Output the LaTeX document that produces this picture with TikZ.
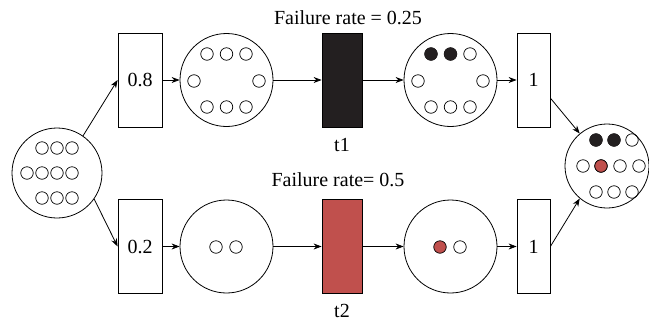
\documentclass[tikz,border=0pt]{standalone}
\usepackage{fontspec}
\setmainfont{Liberation Serif}
\usetikzlibrary{arrows.meta}
\definecolor{pnred}{RGB}{192,80,77}
\definecolor{pnblack}{RGB}{35,31,32}
\begin{document}
\begin{tikzpicture}[x=1pt,y=-1pt,
  every node/.style={font=\fontsize{20}{23}\selectfont},
  place/.style={circle, draw, line width=0.8pt, minimum size=93pt, inner sep=0pt},
  tok/.style={circle, draw, line width=0.7pt, minimum size=12.5pt, inner sep=0pt},
  bx/.style={rectangle, draw, line width=0.8pt, minimum width=44pt, minimum height=94pt, inner sep=0pt},
  bxn/.style={bx, minimum width=33pt},
  trans/.style={rectangle, draw, line width=0.8pt, minimum width=40pt, minimum height=94pt, inner sep=0pt},
  arr/.style={-{Stealth[length=8pt,width=6pt]}, line width=0.8pt},
  lbl/.style={inner sep=0pt}]
\useasboundingbox (0,0) rectangle (649,322);

% places, boxes, transitions
\node[place, minimum size=90pt] (src) at (57,173) {};
\node[bx] (b08) at (140,80) {0.8};
\node[bx] (b02) at (140,246.5) {0.2};
\node[place] (p1) at (226.5,80) {};
\node[trans, fill=pnblack] (t1) at (342,80) {};
\node[place] (p2) at (450.5,80) {};
\node[bxn] (b1a) at (533.5,80) {1};
\node[place] (p3) at (226.5,246.5) {};
\node[trans, fill=pnred] (t2) at (342,246.5) {};
\node[place] (p4) at (450.5,246.5) {};
\node[bxn] (b1b) at (533.5,246.5) {1};
\node[place, minimum size=84pt] (sink) at (607,166) {};

% labels
\node[lbl] (f1) at (348,18) {Failure rate = 0.25};
\node[lbl] (lt1) at (342,145) {t1};
\node[lbl] (f2) at (338,180) {Failure rate= 0.5};
\node[lbl] (lt2) at (342,311) {t2};

% tokens: source
\foreach \x/\y [count=\i] in {42/148,57/148,72/148,27/173,42/173,57/173,72/173,42/198,57/198,72/198}
  \node[tok] (s\i) at (\x,\y) {};
% tokens: p1
\foreach \x/\y [count=\i] in {207/54,226.5/54,246/54,194/81,259/81,207/107,226.5/107,246/107}
  \node[tok] (a\i) at (\x,\y) {};
% tokens: p2
\foreach \x/\y [count=\i] in {431/54,450.5/54,470/54,418/81,483/81,431/107,450.5/107,470/107}
  \node[tok] (c\i) at (\x,\y) {};
\fill[pnblack] (c1.center) circle (6.6pt) (c2.center) circle (6.6pt);
% tokens: p3
\node[tok] (d1) at (216,247) {};
\node[tok] (d2) at (236,247) {};
% tokens: p4
\node[tok, fill=pnred] (e1) at (440,247) {};
\node[tok] (e2) at (460,247) {};
% tokens: sink
\foreach \x/\y [count=\i] in {596/140,614/140,632/140,583/166,601/166,620/166,639/166,596/192,614/192,632/192}
  \node[tok] (k\i) at (\x,\y) {};
\fill[pnblack] (k1.center) circle (6.6pt) (k2.center) circle (6.6pt);
\fill[pnred, draw=black, line width=0.7pt] (k5.center) circle (6.25pt);

% arcs
\draw[arr] (src.55) -- (b08.west);
\draw[arr] (src.-35) -- (b02.west);
\draw[arr] (b08.east) -- (p1.west);
\draw[arr] (p1.east) -- (t1.west);
\draw[arr] (t1.east) -- (p2.west);
\draw[arr] (p2.east) -- (b1a.west);
\draw[arr] (b02.east) -- (p3.west);
\draw[arr] (p3.east) -- (t2.west);
\draw[arr] (t2.east) -- (p4.west);
\draw[arr] (p4.east) -- (b1b.west);
\draw[arr] (b1a.-47) -- (sink.130);
\draw[arr] (b1b.east) -- (sink.-130);
\end{tikzpicture}
\end{document}
